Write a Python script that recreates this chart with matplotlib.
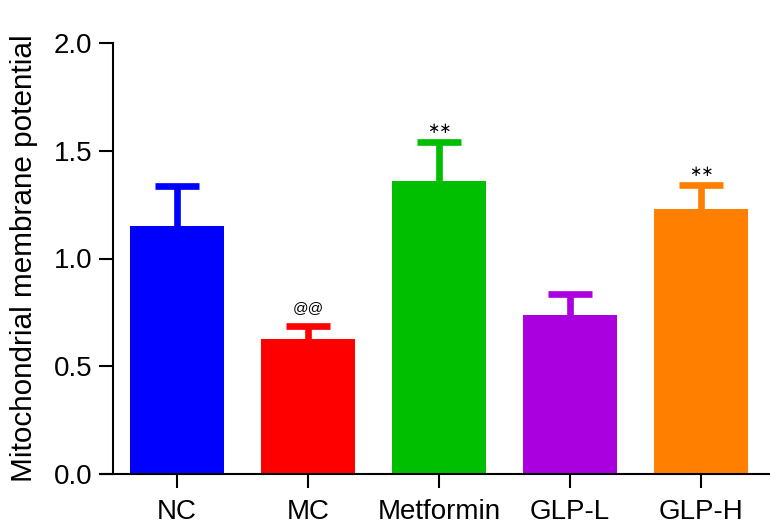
import matplotlib
matplotlib.use("Agg")
import matplotlib.pyplot as plt
import numpy as np

groups = ["NC", "MC", "Metformin", "GLP-L", "GLP-H"]
means = [1.152, 0.625, 1.36, 0.736, 1.23]
err_top = [1.338, 0.688, 1.539, 0.834, 1.342]
marks = ["", "@@", "\u2217\u2217", "", "\u2217\u2217"]
colors = ["#0000FF", "#FF0000", "#00BF00", "#AA00E0", "#FF8000"]

plt.rcParams['font.family'] = ['Liberation Sans', 'DejaVu Sans']

fig = plt.figure(figsize=(7.7, 5.32), dpi=100)
ax = fig.add_axes([100/770, 58/532, 670/770, 431/532])

x = np.arange(len(groups))
ax.bar(x, means, width=0.72, color=colors, zorder=2)
# upward-only error bars with a cap
ax.vlines(x, means, err_top, colors=colors, linewidth=4.8, zorder=1)
ax.hlines(err_top, x - 0.168, x + 0.168, colors=colors, linewidth=4.8, zorder=1)
for xi, e, t in zip(x, err_top, marks):
    if t == "@@":
        ax.text(xi, e + 0.082, t, ha='center', va='center', fontsize=11)
    elif t:
        ax.text(xi, e + 0.063, t, ha='center', va='center', fontsize=10.5,
                family='DejaVu Sans')

ax.set_xlim(-77/131, 593/131)
ax.set_ylim(0, 2.0)
ax.set_yticks([0.0, 0.5, 1.0, 1.5, 2.0])
ax.set_yticklabels(["0.0", "0.5", "1.0", "1.5", "2.0"])
ax.set_xticks(x)
ax.set_xticklabels(groups)
ax.spines['top'].set_visible(False)
ax.spines['right'].set_visible(False)
ax.spines['left'].set_position(('axes', 13/670))
for s in ['left', 'bottom']:
    ax.spines[s].set_linewidth(1.5)
ax.tick_params(axis='both', length=10, width=1.5, labelsize=20, pad=5)
ax.tick_params(axis='x', pad=8)
ax.set_ylabel("Mitochondrial membrane potential", fontsize=21.4, labelpad=11)

fig.savefig("out.png", dpi=100)
